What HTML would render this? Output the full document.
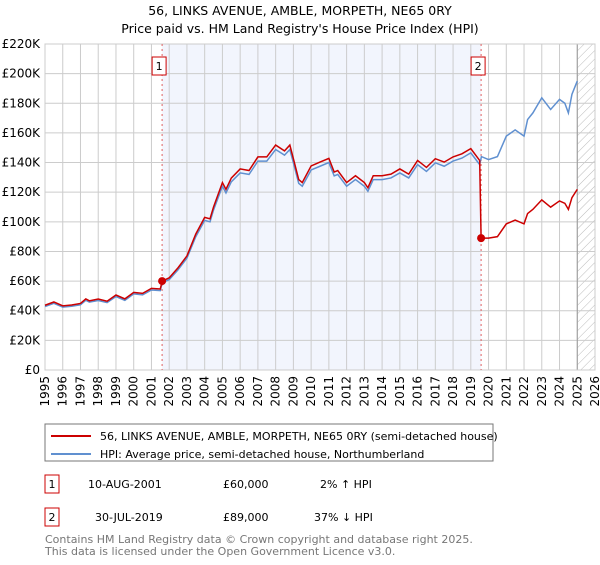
<!DOCTYPE html>
<html><head><meta charset="utf-8"><style>
body{margin:0;background:#fff;font-family:"Liberation Sans","DejaVu Sans",sans-serif;}
svg text{font-family:"DejaVu Sans","Liberation Sans",sans-serif;}
</style></head><body>
<svg id="chart" width="600" height="560" xmlns="http://www.w3.org/2000/svg">
<defs><pattern id="hatch" width="6" height="6" patternUnits="userSpaceOnUse" patternTransform="rotate(45)"><line x1="0" y1="0" x2="0" y2="6" stroke="#bbb" stroke-width="1"/></pattern></defs>
<text x="300" y="15" text-anchor="middle" font-size="12.5">56, LINKS AVENUE, AMBLE, MORPETH, NE65 0RY</text>
<text x="300" y="33" text-anchor="middle" font-size="12.5">Price paid vs. HM Land Registry's House Price Index (HPI)</text>
<g id="plot"></g>
<g>
<rect x="45" y="424" width="448" height="37" fill="#fff" stroke="#777"/>
<line x1="51" y1="436" x2="91" y2="436" stroke="#cc0000" stroke-width="2"/>
<text x="100" y="440" font-size="11">56, LINKS AVENUE, AMBLE, MORPETH, NE65 0RY (semi-detached house)</text>
<line x1="51" y1="454" x2="91" y2="454" stroke="#6090d0" stroke-width="2"/>
<text x="100" y="458" font-size="11">HPI: Average price, semi-detached house, Northumberland</text>
</g>
<g font-size="11">
<rect x="45" y="475" width="14" height="18" fill="#fff" stroke="#cc0000"/><text x="52" y="488" text-anchor="middle">1</text>
<text x="88" y="488">10-AUG-2001</text><text x="223" y="488">£60,000</text><text x="320" y="488">2% ↑ HPI</text>
<rect x="45" y="508" width="14" height="18" fill="#fff" stroke="#cc0000"/><text x="52" y="521" text-anchor="middle">2</text>
<text x="95" y="521">30-JUL-2019</text><text x="223" y="521">£89,000</text><text x="314" y="521">37% ↓ HPI</text>
</g>
<text x="45" y="543" font-size="11" fill="#777">Contains HM Land Registry data © Crown copyright and database right 2025.</text>
<text x="45" y="555" font-size="11" fill="#777">This data is licensed under the Open Government Licence v3.0.</text>
</svg>
<script>
const hpiYears=[1995,1995.5,1996,1996.5,1997,1997.3,1997.5,1998,1998.5,1999,1999.5,2000,2000.5,2001,2001.5,2001.6,2002,2002.5,2003,2003.5,2004,2004.3,2004.5,2005,2005.2,2005.5,2006,2006.5,2007,2007.5,2008,2008.5,2008.8,2009,2009.3,2009.5,2010,2010.5,2011,2011.3,2011.5,2012,2012.5,2013,2013.2,2013.5,2014,2014.5,2015,2015.5,2016,2016.5,2017,2017.5,2018,2018.5,2019,2019.5,2019.6,2020,2020.5,2021,2021.5,2022,2022.2,2022.5,2023,2023.5,2024,2024.3,2024.5,2024.7,2025];
const hpiValues=[42.8,45,42.4,43,44,47,45.8,46.9,45.5,49.6,47,51.4,50.7,54,53.6,58.8,61,67.6,75.5,90,101,100,108,124,119.5,127,133,132,141,141,148.8,145,148.8,139.8,126,124,135,137.5,140,131,132,124,128.5,124,120.6,128.5,128.5,129.6,133,129.6,138.6,134,139.8,137.5,141,143,146.5,138.6,144,142,144,157.8,162,157.8,169,173.5,183.7,175.8,182.6,180,173.5,186,195];
const redYears=[1995,1995.5,1996,1996.5,1997,1997.3,1997.5,1998,1998.5,1999,1999.5,2000,2000.5,2001,2001.5,2001.6,2002,2002.5,2003,2003.5,2004,2004.3,2004.5,2005,2005.2,2005.5,2006,2006.5,2007,2007.5,2008,2008.5,2008.8,2009,2009.3,2009.5,2010,2010.5,2011,2011.3,2011.5,2012,2012.5,2013,2013.2,2013.5,2014,2014.5,2015,2015.5,2016,2016.5,2017,2017.5,2018,2018.5,2019,2019.5,2019.58,2020,2020.5,2021,2021.5,2022,2022.2,2022.5,2023,2023.5,2024,2024.3,2024.5,2024.7,2025];
const redValues=[43.7,45.9,43.3,43.9,44.9,48,46.7,47.9,46.4,50.6,48,52.4,51.7,55.1,54.7,60,62.2,69,77,91.8,103,102,110,126.5,121.9,129.5,135.7,134.6,143.8,143.8,151.8,147.9,151.8,142.6,128.5,126.5,137.7,140.3,142.8,133.6,134.6,126.5,131.1,126.5,123,131.1,131.1,132.2,135.7,132.2,141.4,136.7,142.6,140.3,143.8,145.9,149.4,141.4,89,89,90,98.6,101.2,98.6,105.6,108.4,114.8,109.9,114.1,112.5,108.4,116.3,121.9];
const sales=[[2001.6,60,'1'],[2019.58,89,'2']];
const yTicks=[0,20,40,60,80,100,120,140,160,180,200,220];
const xTicks=[1995,1996,1997,1998,1999,2000,2001,2002,2003,2004,2005,2006,2007,2008,2009,2010,2011,2012,2013,2014,2015,2016,2017,2018,2019,2020,2021,2022,2023,2024,2025,2026];
const L=45,R=595,T=44,B=370;
const X=y=>L+(y-1995)/(2026-1995)*(R-L);
const Y=v=>B-v/220*(B-T);
const NS='http://www.w3.org/2000/svg';
const g=document.getElementById('plot');
function mk(t,a,p){const e=document.createElementNS(NS,t);for(const k in a)e.setAttribute(k,a[k]);(p||g).appendChild(e);return e;}
let e=mk('rect',{x:X(sales[0][0]),y:T,width:X(sales[1][0])-X(sales[0][0]),height:B-T,fill:'#eef2fc',opacity:0.75});


e=mk('rect',{x:X(2025),y:T,width:R-X(2025),height:B-T,fill:'url(#hatch)'});


yTicks.forEach(v=>{
 e=mk('line',{x1:L,x2:R,y1:Y(v),y2:Y(v),stroke:'#ccc'});
 
 
 e=mk('text',{x:L-5,y:Y(v)+4,'text-anchor':'end','font-size':12});
 e.textContent=v===0?'£0':'£'+v+'K';
 
 
});
xTicks.forEach(v=>{
 e=mk('line',{x1:X(v),x2:X(v),y1:T,y2:B,stroke:'#ccc'});
 
 
 e=mk('text',{x:0,y:0,'text-anchor':'end','font-size':12,transform:`translate(${X(v)+4},376) rotate(-90)`});
 e.textContent=v;
 
 
});
e=mk('line',{x1:X(2025),x2:X(2025),y1:T,y2:B,stroke:'#999'});


e=mk('rect',{x:L,y:T,width:R-L,height:B-T,fill:'none',stroke:'#ccc'});


sales.forEach(s=>{
 e=mk('line',{x1:X(s[0]),x2:X(s[0]),y1:T,y2:B,stroke:'#e06060','stroke-dasharray':'2,3'});
 
 
});
e=mk('polyline',{points:hpiYears.map((y,i)=>X(y)+','+Y(hpiValues[i])).join(' '),fill:'none',stroke:'#6090d0','stroke-width':1.5});


e=mk('polyline',{points:redYears.map((y,i)=>X(y)+','+Y(redValues[i])).join(' '),fill:'none',stroke:'#cc0000','stroke-width':1.5});


sales.forEach(s=>{
 e=mk('circle',{cx:X(s[0]),cy:Y(s[1]),r:4,fill:'#cc0000'});
 
 
 e=mk('rect',{x:X(s[0])-10,y:57,width:14,height:18,fill:'#fff',stroke:'#cc0000'});
 
 
 e=mk('text',{x:X(s[0])-3,y:70,'text-anchor':'middle','font-size':11});
 e.textContent=s[2];
 
 
});
</script>
</body></html>
